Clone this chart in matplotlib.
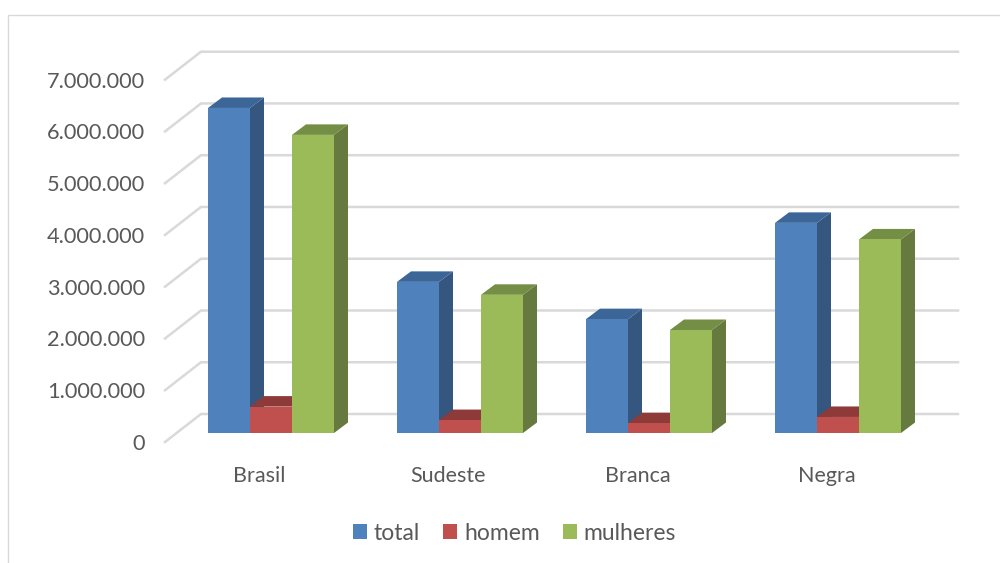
import matplotlib
matplotlib.use("Agg")
import matplotlib.pyplot as plt
from matplotlib.patches import Polygon, Patch
from matplotlib.lines import Line2D
from matplotlib.ticker import FuncFormatter
from matplotlib.transforms import ScaledTranslation

plt.rcParams['font.family'] = ['Lato', 'DejaVu Sans']

categories = ["Brasil", "Sudeste", "Branca", "Negra"]
total = [6280000, 2920000, 2200000, 4060000]
homem = [510000, 250000, 190000, 310000]
mulheres = [5760000, 2670000, 1990000, 3740000]
y_ticks = [0, 1000000, 2000000, 3000000, 4000000, 5000000, 6000000, 7000000]

W, H = 1000, 563
px_per_cat = 189.0
px_per_unit = 51.76 / 1e6

fig = plt.figure(figsize=(W / 100, H / 100), dpi=100)

# axes box = front edge of the fake 3d floor
left, right, bottom, top = 165, 922, 442, 79.7
ax = fig.add_axes([left / W, 1 - bottom / H, (right - left) / W, (bottom - top) / H])
ax.set_xlim((left - 271) / px_per_cat, (right - 271) / px_per_cat)
ax.set_ylim(0, 7000000)
ax.patch.set_visible(False)
for s in ax.spines.values():
    s.set_visible(False)

grid_c = "#D9D9D9"
wall_dx = 36 / px_per_cat
wall_dy = 28 / px_per_unit
x0, x1 = ax.get_xlim()
for t in y_ticks:
    ax.plot([x0, x0 + wall_dx, x1 + wall_dx], [t, t + wall_dy, t + wall_dy],
            color=grid_c, lw=1.8, clip_on=False, zorder=1, solid_joinstyle="miter")

# the bars sit a bit above the front edge, and have their own depth
floor = 9 / px_per_unit
bar_w = 42 / px_per_cat
dx = 14 / px_per_cat
dy = 10.5 / px_per_unit

series = [
    (total, "#4F81BD", "#34567F", "#3D6698"),
    (homem, "#C0504D", "#823735", "#8E3A38"),
    (mulheres, "#9BBB59", "#66793F", "#748E45"),
]

for i in range(len(categories)):
    for j, (vals, front, side, lid) in enumerate(series):
        z = 3 + i * 3 + j
        xl = i + (j - 1.5) * bar_w
        xr = xl + bar_w
        yt = floor + vals[i]
        ax.add_patch(Polygon([(xr, floor), (xr + dx, floor + dy), (xr + dx, yt + dy), (xr, yt)],
                             closed=True, fc=side, ec="none", zorder=z, clip_on=False))
        ax.add_patch(Polygon([(xl, yt), (xl + dx, yt + dy), (xr + dx, yt + dy), (xr, yt)],
                             closed=True, fc=lid, ec="none", zorder=z, clip_on=False))
        ax.bar(xl, vals[i], bar_w, bottom=floor, align="edge", color=front, zorder=z + 0.5, clip_on=False)

txt_c = "#595959"
ax.set_xticks(range(len(categories)))
ax.set_xticklabels(categories, fontsize=15.5, color=txt_c)
ax.set_yticks(y_ticks)
ax.yaxis.set_major_formatter(FuncFormatter(lambda v, p: f"{int(v):,}".replace(",", ".")))
ax.tick_params(axis="y", length=0, pad=14.5, labelsize=15.7, labelcolor=txt_c)
ax.tick_params(axis="x", length=0, pad=17)
# category labels sit left of the group centre in the original
shift = ScaledTranslation(-11.5 / 100, 0, fig.dpi_scale_trans)
for lab in ax.get_xticklabels():
    lab.set_transform(lab.get_transform() + shift)

handles = [Patch(fc=s[1], ec="none") for s in series]
fig.legend(handles, ["total", "homem", "mulheres"], loc="center", bbox_to_anchor=(514.5 / W, 1 - 533 / H),
           ncol=3, frameon=False, fontsize=16.5, labelcolor=txt_c, handlelength=0.62, handleheight=0.62,
           handletextpad=0.3, columnspacing=1.0)

# chart frame, only left and top show in the crop
fig.add_artist(Line2D([8 / W, 8 / W, 1], [0, 1 - 15 / H, 1 - 15 / H], color=grid_c, lw=1))

fig.savefig("out.png", dpi=100)
